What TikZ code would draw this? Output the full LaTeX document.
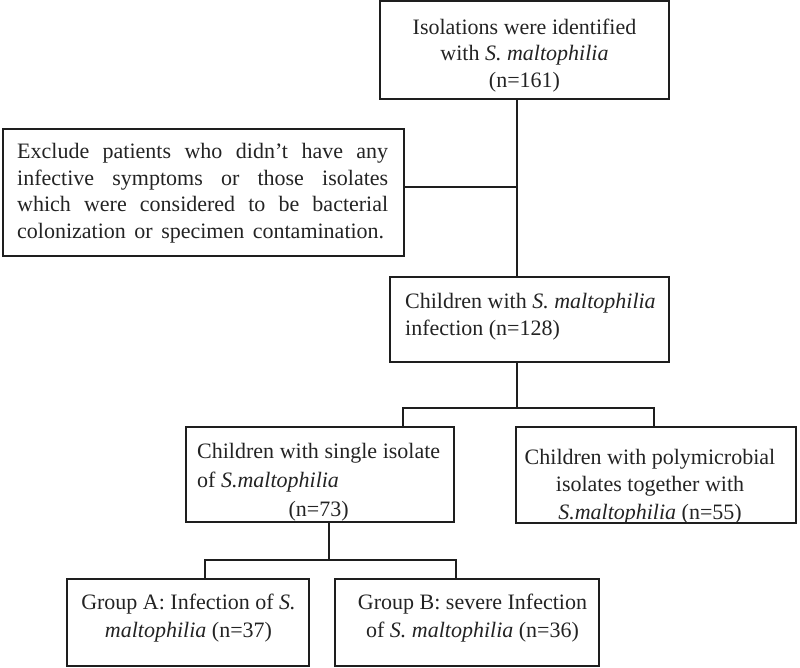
\documentclass[tikz,border=0pt]{standalone}
\usepackage{fontspec}
\setmainfont{Liberation Serif}
\definecolor{linec}{RGB}{30,30,30}
\definecolor{txtc}{RGB}{35,35,35}
\newcommand\fsz[1]{\fontsize{22}{#1}\selectfont}
\tikzset{
  box/.style={draw=linec, line width=1.6pt, inner sep=0pt},
  txt/.style={inner sep=0pt, text=txtc},
  conn/.style={draw=linec, line width=1.6pt}
}
\begin{document}
\begin{tikzpicture}[x=1pt,y=-1pt]
\useasboundingbox (0,0) rectangle (800,667);

% boxes
\node[box, minimum width=289, minimum height=98] (top) at (524.5,50) {};
\node[box, minimum width=401, minimum height=127] (excl) at (203.5,192.5) {};
\node[box, minimum width=279, minimum height=85] (mid) at (529.5,319.5) {};
\node[box, minimum width=268, minimum height=95] (single) at (320,474.5) {};
\node[box, minimum width=280, minimum height=96] (poly) at (656,475) {};
\node[box, minimum width=242, minimum height=87] (ga) at (188,622.5) {};
\node[box, minimum width=264, minimum height=87] (gb) at (467,622.5) {};

% texts
\node[txt, font=\fsz{26.5}, align=center] (toptext) at (524.5,55.5)
  {Isolations were identified\\ with \textit{S. maltophilia}\\ (n=161)};

\node[txt, font=\fsz{26.5}, align=left, anchor=west] (excltext) at (17,193)
  {\makebox[371pt][s]{Exclude patients who didn’t have any}\\
   \makebox[371pt][s]{infective symptoms or those isolates}\\
   \makebox[371pt][s]{which were considered to be bacterial}\\
   \makebox[367pt][s]{colonization or specimen contamination.}};

\node[txt, font=\fsz{27}, align=left, anchor=west] (midtext) at (405,317)
  {Children with \textit{S. maltophilia}\\ infection (n=128)};

\node[txt, font=\fsz{29}, align=left, anchor=west] (singletext) at (197,482)
  {\makebox[243pt][s]{Children with single isolate}\\
   of \textit{S.maltophilia}\\
   \makebox[243pt][c]{(n=73)}};

\begin{scope}
  \clip (poly.south west) rectangle (poly.north east);
  \node[txt, font=\fsz{27.5}, align=center] (polytext) at (650,486.5)
    {Children with polymicrobial\\ isolates together with\\ \textit{S.maltophilia} (n=55)};
\end{scope}

\node[txt, font=\fsz{28}, align=center] (gatext) at (188.5,618)
  {Group A: Infection of \textit{S.}\\ \textit{maltophilia} (n=37)};

\node[txt, font=\fsz{28}, align=center] (gbtext) at (472.5,618)
  {Group B: severe Infection\\ of \textit{S. maltophilia} (n=36)};

% connectors
\coordinate (j1) at (517,187);
\draw[conn] (top.south -| j1) -- (mid.north -| j1);
\draw[conn] (excl.east |- j1) -- (j1);

\coordinate (j2) at (517,408);
\coordinate (j2l) at (403,408);
\coordinate (j2r) at (654,408);
\draw[conn] (mid.south -| j2) -- (j2);
\draw[conn] (single.north -| j2l) -- (j2l) -- (j2r) -- (poly.north -| j2r);

\coordinate (j3) at (329,560);
\coordinate (j3l) at (205,560);
\coordinate (j3r) at (456,560);
\draw[conn] (single.south -| j3) -- (j3);
\draw[conn] (ga.north -| j3l) -- (j3l) -- (j3r) -- (gb.north -| j3r);
\end{tikzpicture}
\end{document}
